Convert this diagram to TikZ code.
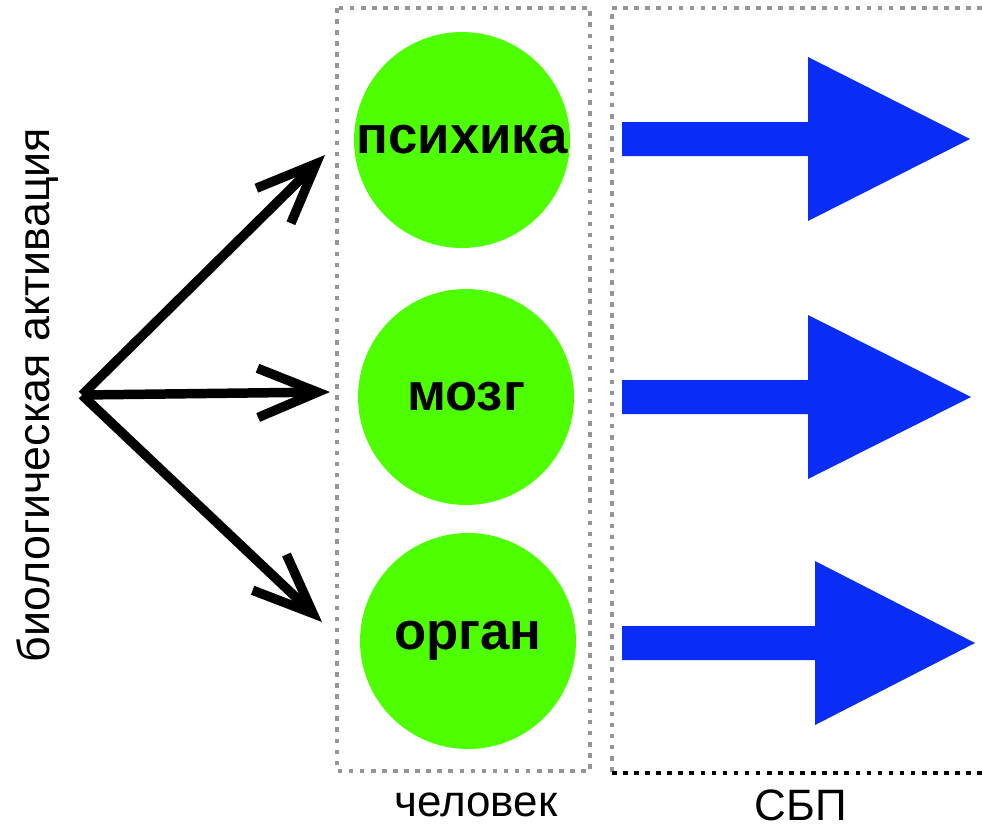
\documentclass[tikz,border=0pt]{standalone}
\usepackage{fontspec}
\setmainfont{Liberation Sans}
\usetikzlibrary{arrows.meta}
\definecolor{ballgreen}{RGB}{78,255,0}
\definecolor{sbpblue}{RGB}{10,45,245}
\definecolor{dotgray}{RGB}{150,150,150}

\tikzset{
  ball/.style={circle, fill=ballgreen, inner sep=0pt, minimum size=4.32cm,
    font=\fontsize{30}{33}\selectfont\bfseries},
  label24/.style={font=\fontsize{25}{29}\selectfont, inner sep=0pt},
  dotbox/.style={dotgray, line width=2.6pt, dash pattern=on 2.6pt off 3.7pt},
  bioarrow/.style={line width=5.4pt, -{Straight Barb[length=34pt,width=28pt]}}
}

\begin{document}
\begin{tikzpicture}[x=0.02cm, y=-0.02cm]
\useasboundingbox (0,0) rectangle (982,828);
%\fill [white] (0,0) rectangle (982,828);
% boxes
\draw[dotbox] (337,8) rectangle (590,771);
\draw[dotbox] (982,8) -- (612,8) -- (612,773);
\draw[dotbox, black] (612,773) -- (982,773);
% circles
\node[ball] (psy) at (462,140) {психика};
\node[ball] (brain) at (466,397) {мозг};
\node[ball] (organ) at (468,641) {орган};
% blue arrows
\foreach \y/\b/\t in {139/808/970, 397/808/971, 643/815/975}
  \fill[sbpblue] (622,\y-17) -- (\b,\y-17) -- (\b,\y-82) -- (\t,\y) -- (\b,\y+82) -- (\b,\y+17) -- (622,\y+17) -- cycle;
% black arrows
\coordinate (src) at (82,395);
\coordinate (t1) at (325,155);
\coordinate (t2) at (330,392);
\coordinate (t3) at (322,622);
\foreach \t in {t1,t2,t3}
  \draw[bioarrow] (src) -- (\t);
% labels
\node[label24, font=\fontsize{25.5}{29}\selectfont, rotate=90] (bio) at (38,395) {биологическая активация};
\node[label24] (human) at (476,805) {человек};
\node[label24] (sbp) at (801,805) {СБП};
\end{tikzpicture}
\end{document}
